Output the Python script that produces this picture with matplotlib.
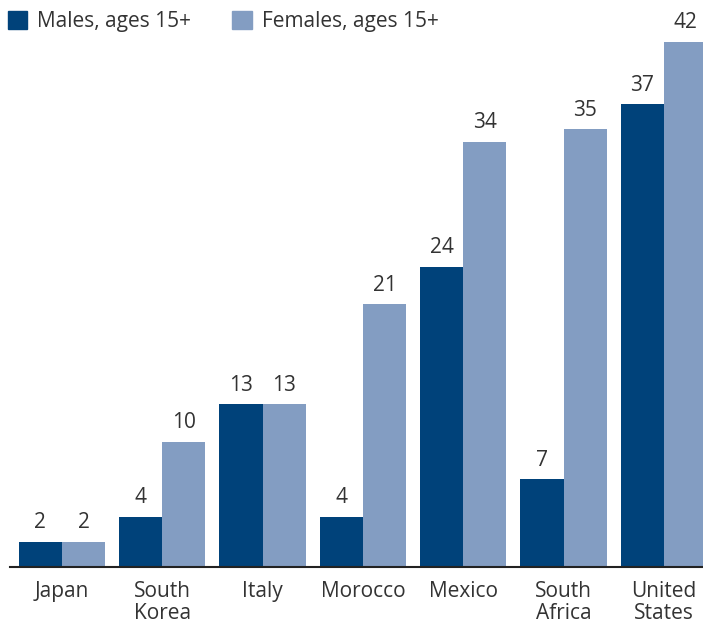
import matplotlib.pyplot as plt
import numpy as np
from matplotlib.patches import Patch

countries = ['Japan', 'South\nKorea', 'Italy', 'Morocco', 'Mexico', 'South\nAfrica', 'United\nStates']
males = [2, 4, 13, 4, 24, 7, 37]
females = [2, 10, 13, 21, 34, 35, 42]

dark = '#00427a'
light = '#839dc2'
txt = '#333333'

plt.rcParams['font.family'] = ['Open Sans', 'DejaVu Sans']

fig = plt.figure(figsize=(7.03, 6.23), dpi=100)
ax = fig.add_axes([10 / 703, 56 / 623, 693 / 703, 529 / 623])

x = np.arange(len(countries))
w = 0.43
b1 = ax.bar(x - w / 2, males, w, color=dark)
b2 = ax.bar(x + w / 2, females, w, color=light)

for bars, vals in ((b1, males), (b2, females)):
    for r, v in zip(bars, vals):
        ax.text(r.get_x() + r.get_width() / 2, v + 0.7, str(v), ha='center', va='bottom',
                fontsize=15, color=txt)

ax.set_xlim(-0.518, 6.39)
ax.set_ylim(0, 42.3)
ax.set_xticks(x)
ax.set_xticklabels(countries, fontsize=15, color=txt, linespacing=1.1)
ax.tick_params(axis='x', length=0, pad=10)
ax.set_yticks([])
for s in ['top', 'right', 'left']:
    ax.spines[s].set_visible(False)
ax.spines['bottom'].set_color('#222222')
ax.spines['bottom'].set_linewidth(1.5)
ax.patch.set_alpha(0)

handles = [Patch(color=dark), Patch(color=light)]
fig.legend(handles, ['Males, ages 15+', 'Females, ages 15+'], loc='upper left',
           bbox_to_anchor=(-0.016, 1.012), ncol=2, frameon=False, fontsize=15,
           handlelength=0.95, handleheight=0.95, handletextpad=0.45, columnspacing=2.0,
           labelcolor=txt)

fig.savefig('out.png', dpi=100)
